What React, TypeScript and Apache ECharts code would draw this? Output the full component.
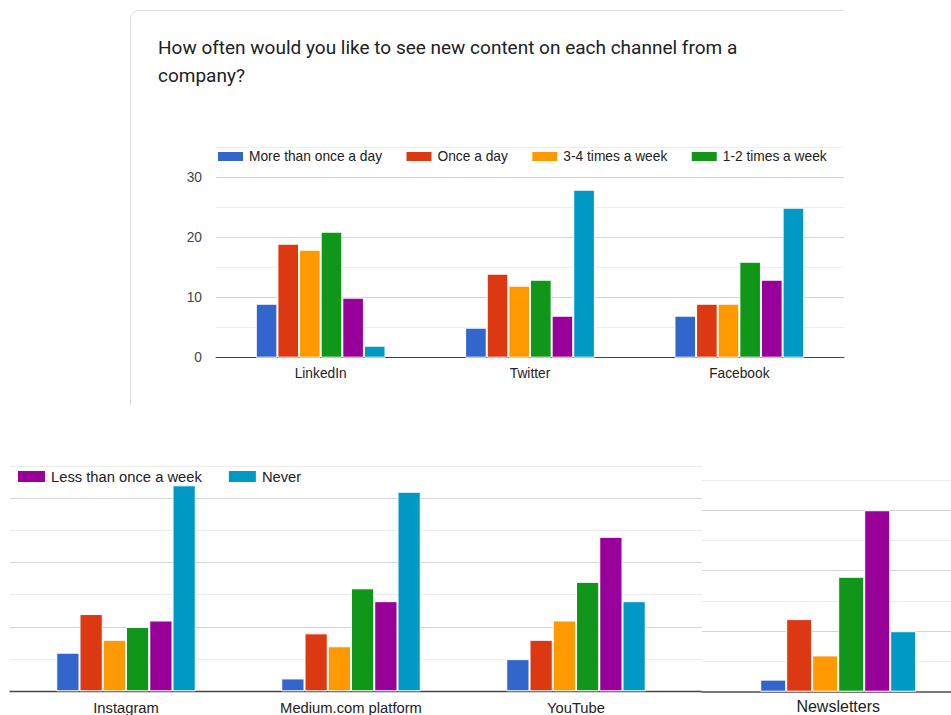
import React, { useEffect, useRef } from "react";
import * as echarts from "echarts";

// Survey answers per channel (number of respondents)
const channels = [
  "LinkedIn",
  "Twitter",
  "Facebook",
  "Instagram",
  "Medium.com platform",
  "YouTube",
  "Newsletters",
];
const moreThanOnceADay = [9, 5, 7, 6, 2, 5, 2];
const onceADay = [19, 14, 9, 12, 9, 8, 12];
const threeToFourWeekly = [18, 12, 9, 8, 7, 11, 6];
const oneToTwoWeekly = [21, 13, 16, 10, 16, 17, 19];
const lessThanWeekly = [10, 7, 13, 11, 14, 24, 30];
const never = [2, 28, 25, 32, 31, 14, 10];

const seriesNames = [
  "More than once a day",
  "Once a day",
  "3-4 times a week",
  "1-2 times a week",
  "Less than once a week",
  "Never",
];
const seriesValues = [
  moreThanOnceADay,
  onceADay,
  threeToFourWeekly,
  oneToTwoWeekly,
  lessThanWeekly,
  never,
];
const palette = ["#3366cc", "#dc3912", "#ff9900", "#109618", "#990099", "#0099c6"];

const titleLines = [
  "How often would you like to see new content on each channel from a",
  "company?",
];

const Y_MAX = 35;
const Y_STEP = 5;
const FONT = "'Liberation Sans', Arial, sans-serif";
const GRID_COLORS = ["#d4d4d4", "#ececec"];

function barsFor(axisIndex: number, from: number, to: number) {
  return seriesNames.map((name, i) => ({
    type: "bar",
    name,
    xAxisIndex: axisIndex,
    yAxisIndex: axisIndex,
    data: seriesValues[i].slice(from, to),
    barGap: "0%",
    barCategoryGap: "38%",
    itemStyle: { color: palette[i], borderColor: "#ffffff", borderWidth: 1 },
    emphasis: { disabled: true },
  }));
}

function valueAxis(gridIndex: number, showLines: boolean, showLabels: boolean, fontSize = 13.75) {
  return {
    type: "value",
    gridIndex,
    min: 0,
    max: Y_MAX,
    interval: Y_STEP,
    axisLine: { show: false },
    axisTick: { show: false },
    splitLine: { show: showLines, lineStyle: { color: GRID_COLORS, width: 1 } },
    axisLabel: {
      show: showLabels,
      color: "#444444",
      fontFamily: FONT,
      fontSize,
      margin: 14,
      formatter: (v: number) => (v % 10 === 0 && v < Y_MAX ? String(v) : ""),
    },
  };
}

function backdropXAxis(gridIndex: number, lineColor: string, lineWidth: number) {
  return {
    type: "value",
    gridIndex,
    min: 0,
    max: 1,
    axisLine: { show: true, onZero: true, lineStyle: { color: lineColor, width: lineWidth } },
    axisTick: { show: false },
    axisLabel: { show: false },
    splitLine: { show: false },
  };
}

function categoryAxis(
  gridIndex: number,
  data: string[],
  fontSize: number,
  margin: number,
  showLine: boolean
) {
  return {
    type: "category",
    gridIndex,
    data,
    axisLine: { show: showLine, lineStyle: { color: "#444444", width: 1 } },
    axisTick: { show: false },
    axisLabel: { color: "#222222", fontFamily: FONT, fontSize, margin },
  };
}

function grid(left: number, top: number, width: number, height: number) {
  return { left, top, width, height, outerBoundsMode: "none", containLabel: false };
}

export default function App() {
  const ref = useRef<HTMLDivElement>(null);

  useEffect(() => {
    if (!ref.current) return;
    const chart = echarts.init(ref.current, null, { renderer: "svg" });

    const option = {
      animation: false,
      backgroundColor: "#ffffff",
      grid: [
        // top panel
        grid(216, 147.7, 628, 210),
        // lower-left backdrop lines
        grid(10, 466, 692, 225.3),
        // lower-left bars
        grid(13.5, 466, 675, 225.3),
        // newsletters backdrop lines
        grid(702, 480, 249, 211.7),
        // newsletters bars
        grid(712.4, 480, 251.6, 211.7),
      ],
      xAxis: [
        categoryAxis(0, channels.slice(0, 3), 13.75, 8.5, true),
        backdropXAxis(1, "#444444", 1.3),
        categoryAxis(2, channels.slice(3, 6), 14.75, 9, false),
        backdropXAxis(3, "#7a7a7a", 2),
        categoryAxis(4, channels.slice(6), 16, 7, false),
      ],
      yAxis: [
        valueAxis(0, true, true),
        valueAxis(1, true, false),
        valueAxis(2, false, false),
        valueAxis(3, true, false),
        valueAxis(4, false, false),
      ],
      legend: [
        {
          data: seriesNames.slice(0, 4),
          left: 216,
          top: 148.5,
          padding: 0,
          icon: "rect",
          itemWidth: 27,
          itemHeight: 11,
          itemGap: 22.5,
          selectedMode: false,
          textStyle: { color: "#222222", fontFamily: FONT, fontSize: 13.75, lineHeight: 16 },
        },
        {
          data: seriesNames.slice(4),
          left: 16,
          top: 468,
          padding: 0,
          icon: "rect",
          itemWidth: 29,
          itemHeight: 13,
          itemGap: 25,
          selectedMode: false,
          textStyle: { color: "#222222", fontFamily: FONT, fontSize: 14.75, lineHeight: 17 },
        },
      ],
      graphic: [
        // card outline (top and left edges with a rounded corner)
        {
          type: "line",
          shape: { x1: 138.5, y1: 10.5, x2: 844, y2: 10.5 },
          style: { stroke: "#dadce0", lineWidth: 1 },
          silent: true,
        },
        {
          type: "line",
          shape: { x1: 130.5, y1: 18.5, x2: 130.5, y2: 405 },
          style: { stroke: "#dadce0", lineWidth: 1 },
          silent: true,
        },
        {
          type: "arc",
          shape: { cx: 138.5, cy: 18.5, r: 8, startAngle: Math.PI, endAngle: Math.PI * 1.5 },
          style: { stroke: "#dadce0", lineWidth: 1, fill: "none" },
          silent: true,
        },
        ...titleLines.map((line, i) => ({
          type: "text",
          x: 158,
          y: 47.7 + i * 27.7,
          silent: true,
          style: {
            text: line,
            fill: "#202124",
            font: "400 19px Roboto, 'Noto Sans', sans-serif",
            textVerticalAlign: "middle",
          },
        })),
      ],
      series: [...barsFor(0, 0, 3), ...barsFor(2, 3, 6), ...barsFor(4, 6, 7)],
    };

    chart.setOption(option as any);
    return () => chart.dispose();
  }, []);

  return (
    <div
      ref={ref}
      style={{ position: "fixed", left: 0, top: 0, width: 951, height: 715 }}
    />
  );
}
